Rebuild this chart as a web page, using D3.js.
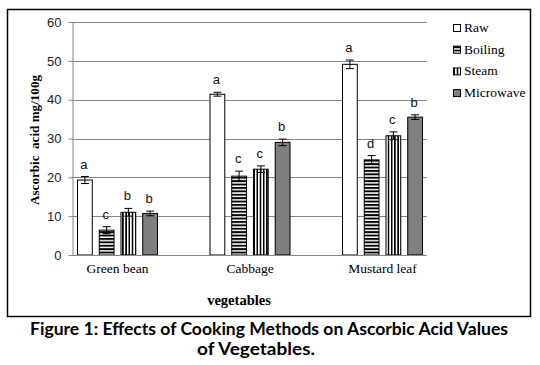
<!DOCTYPE html>
<html><head><meta charset="utf-8">
<script src="https://cdn.jsdelivr.net/npm/d3@7"></script>
<style>html,body{margin:0;padding:0;background:#fff;}svg{display:block;}
.serif{font-family:'Liberation Serif','Times New Roman',serif;}
.sans{font-family:'Liberation Sans',Arial,sans-serif;}
</style>
</head><body>
<svg id="chart" width="540" height="365"></svg>
<script>
const categories = ["Green bean", "Cabbage", "Mustard leaf"];
const seriesNames = ["Raw", "Boiling", "Steam", "Microwave"];
const rawValues = [19.3, 41.4, 49.1];
const boilingValues = [6.4, 20.3, 24.5];
const steamValues = [11.0, 22.1, 30.7];
const microwaveValues = [10.7, 29.0, 35.5];
const rawErrors = [0.9, 0.5, 1.1];
const boilingErrors = [0.9, 1.3, 1.1];
const steamErrors = [1.0, 0.85, 1.0];
const microwaveErrors = [0.6, 0.85, 0.6];
const rawLetters = ["a", "a", "a"];
const boilingLetters = ["c", "c", "d"];
const steamLetters = ["b", "c", "c"];
const microwaveLetters = ["b", "b", "b"];
const yTicks = [0, 10, 20, 30, 40, 50, 60];

const seriesValues = [rawValues, boilingValues, steamValues, microwaveValues];
const seriesErrors = [rawErrors, boilingErrors, steamErrors, microwaveErrors];
const seriesLetters = [rawLetters, boilingLetters, steamLetters, microwaveLetters];

const svg = d3.select("#chart");
const defs = svg.append("defs");

const ph = defs.append("pattern").attr("id", "hstripe").attr("patternUnits", "userSpaceOnUse")
  .attr("width", 4).attr("height", 3.4);
ph.append("rect").attr("width", 4).attr("height", 3.4).attr("fill", "#fff");
ph.append("rect").attr("width", 4).attr("height", 1.9).attr("fill", "#000");

const pv = defs.append("pattern").attr("id", "vstripe").attr("patternUnits", "userSpaceOnUse")
  .attr("width", 3.2).attr("height", 4).attr("x", 0.5);
pv.append("rect").attr("width", 3.2).attr("height", 4).attr("fill", "#fff");
pv.append("rect").attr("width", 1.6).attr("height", 4).attr("fill", "#000");

const fills = ["#ffffff", "url(#hstripe)", "url(#vstripe)", "#7f7f7f"];

// outer frame
svg.append("rect").attr("x", 7.5).attr("y", 9.5).attr("width", 523).attr("height", 307)
  .attr("fill", "none").attr("stroke", "#000").attr("stroke-width", 1.5);

const plotLeft = 72, plotRight = 427, plotTop = 22, plotBottom = 255;
const y = d3.scaleLinear().domain([0, 60]).range([plotBottom, plotTop]);
const x = d3.scalePoint().domain(categories).range([117, 382]);
const xs = d3.scaleBand().domain(seriesNames).range([-40, 40]).paddingInner(0.32);

// gridlines
svg.append("g").selectAll("line").data(yTicks.filter(d => d > 0)).join("line")
  .attr("x1", plotLeft).attr("x2", plotRight)
  .attr("y1", d => Math.round(y(d)) + 0.5).attr("y2", d => Math.round(y(d)) + 0.5)
  .attr("stroke", "#868686").attr("stroke-width", 1);

// y axis
const yAxis = svg.append("g").attr("transform", `translate(${plotLeft + 0.5},0)`)
  .call(d3.axisLeft(y).tickValues(yTicks).tickSize(4).tickPadding(7).tickSizeOuter(0))
  .attr("font-family", null).attr("font-size", null).attr("class", "sans");
yAxis.select(".domain").attr("stroke", "#868686");
yAxis.selectAll(".tick line").attr("stroke", "#868686");
yAxis.selectAll(".tick text").style("font-size", "13px").attr("fill", "#222");

// bars
seriesNames.forEach((s, si) => {
  const g = svg.append("g");
  const data = categories.map((c, ci) => ({c, v: seriesValues[si][ci], e: seriesErrors[si][ci], l: seriesLetters[si][ci]}));
  g.selectAll("rect").data(data).join("rect")
    .attr("x", d => x(d.c) + xs(s) + 0.5)
    .attr("y", d => y(d.v))
    .attr("width", xs.bandwidth())
    .attr("height", d => y(0) - y(d.v))
    .attr("fill", fills[si]).attr("stroke", "#000").attr("stroke-width", 1);
  const cx = d => x(d.c) + xs(s) + 0.5 + xs.bandwidth() / 2;
  g.selectAll("line.err").data(data).join("line").attr("class", "err")
    .attr("x1", cx).attr("x2", cx)
    .attr("y1", d => y(d.v + d.e)).attr("y2", d => y(d.v - d.e))
    .attr("stroke", "#000").attr("stroke-width", 1);
  ["top", "bot"].forEach(k => {
    g.selectAll("line.cap" + k).data(data).join("line").attr("class", "cap" + k)
      .attr("x1", d => cx(d) - 4).attr("x2", d => cx(d) + 4)
      .attr("y1", d => y(k === "top" ? d.v + d.e : d.v - d.e))
      .attr("y2", d => y(k === "top" ? d.v + d.e : d.v - d.e))
      .attr("stroke", "#000").attr("stroke-width", 1);
  });
  g.selectAll("text").data(data).join("text")
    .attr("class", "sans")
    .attr("x", d => cx(d) - 1)
    .attr("y", d => y(d.v + d.e) - 8)
    .attr("text-anchor", "middle")
    .style("font-size", "13px")
    .attr("fill", "#111")
    .text(d => d.l);
});

// x axis baseline
svg.append("line").attr("x1", plotLeft).attr("x2", plotRight)
  .attr("y1", plotBottom + 0.5).attr("y2", plotBottom + 0.5)
  .attr("stroke", "#868686").attr("stroke-width", 1);

// category labels
const xAxis = svg.append("g").attr("transform", `translate(0,${plotBottom})`)
  .call(d3.axisBottom(x).tickSize(0).tickPadding(13))
  .attr("font-family", null).attr("font-size", null).attr("class", "serif");
xAxis.select(".domain").remove();
xAxis.selectAll(".tick text").style("font-size", "13.5px").attr("fill", "#000").attr("dy", "0.35em");

// axis titles
svg.append("text").attr("class", "serif").attr("transform", "translate(39,140) rotate(-90)")
  .attr("text-anchor", "middle")
  .attr("font-weight", "bold").style("font-size", "12.5px").style("white-space", "pre")
  .attr("textLength", 130).attr("lengthAdjust", "spacingAndGlyphs")
  .text("Ascorbic  acid mg/100g");
svg.append("text").attr("class", "serif").attr("x", 239).attr("y", 305)
  .attr("text-anchor", "middle")
  .attr("font-weight", "bold").style("font-size", "14.5px").text("vegetables");

// legend
const legend = svg.append("g").selectAll("g").data(seriesNames).join("g")
  .attr("transform", (d, i) => `translate(453,${24.5 + i * 21.7})`);
legend.append("rect").attr("x", 0.5).attr("y", 0).attr("width", 7).attr("height", 7)
  .attr("fill", (d, i) => fills[i]).attr("stroke", "#000").attr("stroke-width", 1);
legend.append("text").attr("class", "serif").attr("x", 11).attr("y", 7.5)
  .style("font-size", "13.5px")
  .attr("fill", "#000").text(d => d);

// caption
svg.append("text").attr("x", 269).attr("y", 335).attr("text-anchor", "middle")
  .style("font-family", "Lato, 'Open Sans', sans-serif").attr("font-weight", "bold").style("font-size", "16.5px")
  .attr("fill", "#000").attr("textLength", 478).attr("lengthAdjust", "spacingAndGlyphs")
  .text("Figure 1: Effects of Cooking Methods on Ascorbic Acid Values");
svg.append("text").attr("x", 256).attr("y", 355).attr("text-anchor", "middle")
  .style("font-family", "Lato, 'Open Sans', sans-serif").attr("font-weight", "bold").style("font-size", "16.5px")
  .attr("fill", "#000").attr("textLength", 118).attr("lengthAdjust", "spacingAndGlyphs")
  .text("of Vegetables.");
</script>
</body></html>
